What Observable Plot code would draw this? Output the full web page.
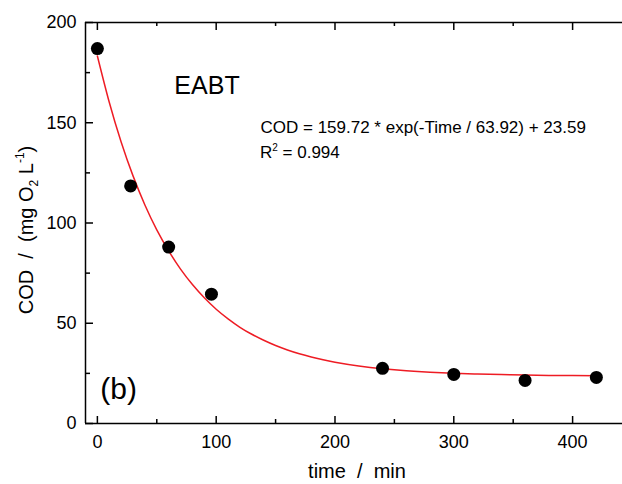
<!DOCTYPE html>
<html><head><meta charset="utf-8">
<script src="https://cdn.jsdelivr.net/npm/d3@7"></script>
<script src="https://cdn.jsdelivr.net/npm/@observablehq/plot@0.6"></script>
<style>body{margin:0;background:#fff} svg{display:block}</style>
</head><body><div id="chart"></div>
<script>
// measured data points
const time = [0, 28, 60, 96, 240, 300, 360, 420];
const cod = [187, 118.5, 88, 64.5, 27.5, 24.5, 21.5, 23];
// fitted curve
const fitTime = [0, 10, 20, 30, 40, 50, 60, 70, 80, 90, 100, 110, 120, 130, 140, 150, 160, 170, 180, 190, 200, 220, 240, 260, 280, 300, 320, 340, 360, 380, 400, 420];
const fitCod = [183.3, 160.2, 140.4, 123.5, 109.0, 96.6, 86.1, 77.0, 69.3, 62.7, 57.0, 52.2, 48.0, 44.5, 41.5, 38.9, 36.7, 34.8, 33.2, 31.8, 30.6, 28.7, 27.3, 26.3, 25.6, 25.1, 24.7, 24.4, 24.2, 24.0, 23.9, 23.8];
// ticks
const xTicks = [0, 100, 200, 300, 400];
const xMinor = [50, 150, 250, 350];
const yTicks = [0, 50, 100, 150, 200];
const yMinor = [25, 75, 125, 175];
// texts
const sampleLabel = "EABT";
const panelLabel = "(b)";
const equation = "COD = 159.72 * exp(-Time / 63.92) + 23.59";
const r2Value = "0.994";

const points = time.map((t, i) => ({t, c: cod[i]}));
const fit = fitTime.map((t, i) => ({t, c: fitCod[i]}));

const W = 622, H = 484, mL = 85, mR = 0, mT = 22, mB = 61;
const pw = W - mL - mR, ph = H - mT - mB;
const font = "'Liberation Sans', Arial, sans-serif";

const chart = Plot.plot({
  width: W, height: H,
  marginLeft: mL, marginRight: mR, marginTop: mT, marginBottom: mB,
  style: {fontSize: "18px", fontFamily: font, color: "black", background: "white"},
  x: {domain: [-10, 442], ticks: xTicks, tickSize: 0, tickPadding: 12, label: null},
  y: {domain: [0, 200], ticks: yTicks, tickSize: 0, tickPadding: 9, label: null},
  marks: [
    Plot.ruleY([0, 200], {strokeWidth: 1.5}),
    Plot.ruleX([-10], {strokeWidth: 1.5}),
    Plot.ruleX(xTicks, {insetTop: ph - 7, strokeWidth: 1.5}),
    Plot.ruleX(xTicks, {insetBottom: ph - 8, strokeWidth: 1.5}),
    Plot.ruleX(xMinor, {insetTop: ph - 4, strokeWidth: 1.5}),
    Plot.ruleX(xMinor, {insetBottom: ph - 4, strokeWidth: 1.5}),
    Plot.ruleY(yTicks, {insetRight: pw - 8, strokeWidth: 1.5}),
    Plot.ruleY(yMinor, {insetRight: pw - 5, strokeWidth: 1.5}),
    Plot.line(fit, {x: "t", y: "c", stroke: "#ee1c24", strokeWidth: 1.5, curve: "natural"}),
    Plot.dot(points, {x: "t", y: "c", r: 6.5, fill: "black"}),
    Plot.text([sampleLabel], {x: 64.8, y: 168.5, text: d => d, textAnchor: "start", fontSize: 25, fill: "black"}),
    Plot.text([panelLabel], {x: 2.5, y: 17, text: d => d, textAnchor: "start", fontSize: 30, fill: "black"}),
    Plot.text([equation], {x: 137.3, y: 147.5, text: d => d, textAnchor: "start", fontSize: 17, fill: "black"})
  ]
});
document.getElementById("chart").appendChild(chart);

const svg = d3.select(chart);
const sx = chart.scale("x"), sy = chart.scale("y");
// R² line
const r2 = svg.append("text")
  .attr("x", sx.apply(137.3)).attr("y", sy.apply(132))
  .attr("text-anchor", "start")
  .attr("font-size", 17).attr("font-family", font).attr("fill", "black");
r2.append("tspan").text("R");
r2.append("tspan").attr("font-size", 10).attr("dy", -7).text("2");
r2.append("tspan").attr("dy", 7).text("\u00a0= " + r2Value);

// x title
svg.append("text")
  .attr("x", 357).attr("y", 478)
  .attr("text-anchor", "middle").attr("font-size", 20).attr("font-family", font)
  .attr("fill", "black")
  .text("time\u00a0\u00a0/\u00a0\u00a0min");

// y title
const yt = svg.append("text")
  .attr("transform", "translate(33,230) rotate(-90)")
  .attr("text-anchor", "middle").attr("font-size", 20).attr("font-family", font)
  .attr("fill", "black");
yt.append("tspan").text("COD\u00a0\u00a0/\u00a0\u00a0(mg O");
yt.append("tspan").attr("font-size", 12).attr("dy", 5).text("2");
yt.append("tspan").attr("dy", -5).text("\u00a0L");
yt.append("tspan").attr("font-size", 12).attr("dy", -9).text("-1");
yt.append("tspan").attr("dy", 9).text(")");
</script>
</body></html>
